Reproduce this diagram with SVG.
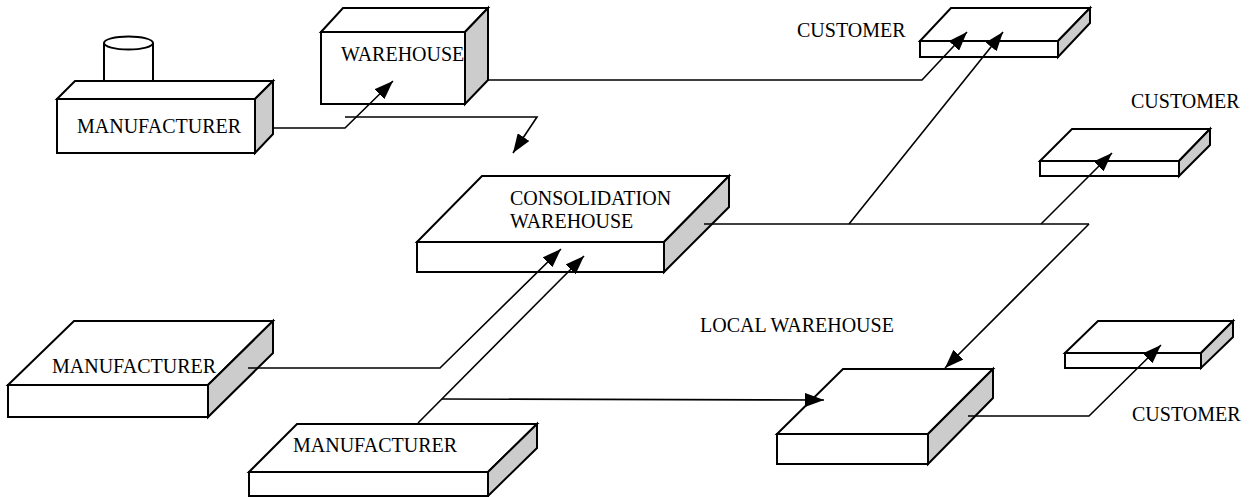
<svg xmlns="http://www.w3.org/2000/svg" width="1253" height="497" viewBox="0 0 1253 497">
<style>
.f{fill:#fff;stroke:#000;stroke-width:2;stroke-linejoin:miter}
.s{fill:#cccccc;stroke:#000;stroke-width:2}
.c{fill:none;stroke:#000;stroke-width:1.6}
.t{font-family:"Liberation Serif","Times New Roman",serif;font-size:20px;fill:#000}
</style>
<defs>
<marker id="ah" markerUnits="userSpaceOnUse" markerWidth="20" markerHeight="14" refX="19" refY="7" orient="auto">
<path d="M0,0 L19,7 L0,14 z" fill="#000"/>
</marker>
</defs>
<rect width="1253" height="497" fill="#fff"/>

<g id="manufacturer-top">
<path class="f" d="M104,43 V81 H153 V43"/>
<ellipse class="f" cx="128.5" cy="43" rx="24.5" ry="6.5"/>
<polygon class="f" points="57,99 75,81 273,81 255,99"/>
<rect class="f" x="57" y="99" width="198" height="54"/>
<polygon class="s" points="255,99 273,81 273,134 255,153"/>
<text class="t" x="77" y="133">MANUFACTURER</text>
</g>

<g id="warehouse">
<polygon class="f" points="321,32 343,8 488,8 465,32"/>
<rect class="f" x="321" y="32" width="144" height="72"/>
<polygon class="s" points="465,32 488,8 488,80 465,104"/>
<text class="t" x="341" y="61">WAREHOUSE</text>
</g>

<g id="customer-top">
<polygon class="f" points="920,41 951,8 1090,8 1058,41"/>
<rect class="f" x="920" y="41" width="138" height="16"/>
<polygon class="s" points="1058,41 1090,8 1090,23 1058,57"/>
<text class="t" x="797" y="37">CUSTOMER</text>
</g>

<g id="customer-mid">
<polygon class="f" points="1040,161 1072,129 1210,129 1179,161"/>
<rect class="f" x="1040" y="161" width="139" height="15"/>
<polygon class="s" points="1179,161 1210,129 1210,145 1179,176"/>
<text class="t" x="1131" y="108">CUSTOMER</text>
</g>

<g id="consolidation-warehouse">
<polygon class="f" points="417,242 482,176 729,176 664,242"/>
<rect class="f" x="417" y="242" width="247" height="30"/>
<polygon class="s" points="664,242 729,176 729,207 664,272"/>
<text class="t" x="510" y="205">CONSOLIDATION</text>
<text class="t" x="510" y="228">WAREHOUSE</text>
</g>

<g id="manufacturer-mid">
<polygon class="f" points="8,385 74,321 273,321 208,385"/>
<rect class="f" x="8" y="385" width="200" height="32"/>
<polygon class="s" points="208,385 273,321 273,353 208,417"/>
<text class="t" x="52" y="373">MANUFACTURER</text>
</g>

<g id="manufacturer-bottom">
<polygon class="f" points="249,472 297,424 537,424 488,472"/>
<rect class="f" x="249" y="472" width="239" height="24"/>
<polygon class="s" points="488,472 537,424 537,448 488,496"/>
<text class="t" x="293" y="452">MANUFACTURER</text>
</g>

<g id="local-warehouse">
<polygon class="f" points="777,434 843,369 993,369 928,434"/>
<rect class="f" x="777" y="434" width="151" height="30"/>
<polygon class="s" points="928,434 993,369 993,398 928,464"/>
<text class="t" x="700" y="332">LOCAL WAREHOUSE</text>
</g>

<g id="customer-bottom">
<polygon class="f" points="1065,353 1098,321 1233,321 1201,353"/>
<rect class="f" x="1065" y="353" width="136" height="15"/>
<polygon class="s" points="1201,353 1233,321 1233,337 1201,368"/>
<text class="t" x="1132" y="421">CUSTOMER</text>
</g>

<g id="connectors">
<polyline class="c" points="273,128 345,128 393,81" marker-end="url(#ah)"/>
<polyline class="c" points="345,117 537,117 513,153" marker-end="url(#ah)"/>
<polyline class="c" points="488,80 922,80 967,32" marker-end="url(#ah)"/>
<line class="c" x1="704" y1="224" x2="1089" y2="224"/>
<line class="c" x1="849" y1="224" x2="1003" y2="32" marker-end="url(#ah)"/>
<line class="c" x1="1041" y1="224" x2="1112" y2="153" marker-end="url(#ah)"/>
<line class="c" x1="1089" y1="224" x2="945" y2="368" marker-end="url(#ah)"/>
<polyline class="c" points="248,368 440,368 561,249" marker-end="url(#ah)"/>
<line class="c" x1="418" y1="423" x2="584" y2="256" marker-end="url(#ah)"/>
<line class="c" x1="442" y1="399" x2="824" y2="400" marker-end="url(#ah)"/>
<polyline class="c" points="968,416 1089,416 1161,345" marker-end="url(#ah)"/>
</g>
</svg>
